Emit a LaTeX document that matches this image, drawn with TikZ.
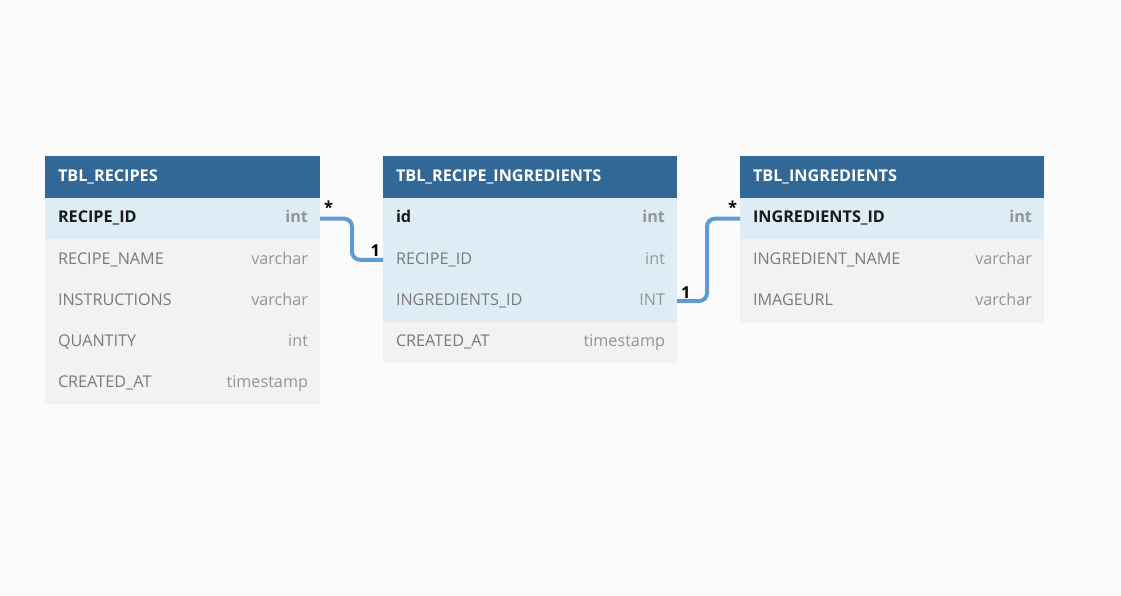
\documentclass[tikz,border=0pt]{standalone}
\usepackage{fontspec}
\setmainfont{Open Sans}
\usetikzlibrary{positioning}
\definecolor{hdrblue}{HTML}{326896}
\definecolor{keyrow}{HTML}{DEEDF5}
\definecolor{plainrow}{HTML}{F2F2F2}
\definecolor{fieldgray}{HTML}{7A7A7A}
\definecolor{typegray}{HTML}{959595}
\definecolor{linkblue}{HTML}{5F9BD0}
\definecolor{canvas}{HTML}{FBFBFB}

\tikzset{every node/.style={inner sep=0pt, outer sep=0pt}}
\tikzset{
  hdr/.style={fill=hdrblue, anchor=north west, minimum height=42pt},
  hdrtext/.style={text=white, font=\fontsize{16.2}{19}\selectfont\bfseries, text height=11.5pt, text depth=3pt},
  keyrow/.style={fill=keyrow, anchor=north west, minimum height=41.2pt},
  plainrow/.style={fill=plainrow, anchor=north west, minimum height=41.2pt},
  fname/.style={text=fieldgray, font=\fontsize{16.2}{19}\selectfont, text height=11.5pt, text depth=3pt},
  fkey/.style={text=black!90, font=\fontsize{16.2}{19}\selectfont\bfseries, text height=11.5pt, text depth=3pt},
  ftype/.style={text=typegray, font=\fontsize{16.2}{19}\selectfont, text height=11.5pt, text depth=3pt},
  fkeytype/.style={text=typegray, font=\fontsize{16.2}{19}\selectfont\bfseries, text height=11.5pt, text depth=3pt},
  link/.style={draw=linkblue, line width=4pt, rounded corners=8pt},
  mult/.style={text=black, font=\fontsize{16.5}{19}\selectfont\bfseries}
}

\begin{document}
\begin{tikzpicture}[x=1pt, y=-1pt]
\useasboundingbox[fill=canvas] (0,0) rectangle (1121,595);

% TBL_RECIPES
\node[hdr, minimum width=275pt] (rcp) at (45,156) {};
\node[hdrtext, right=13pt of rcp.west] (rcpt) {TBL\_RECIPES};
\node[keyrow, minimum width=275pt] (rcp1) at (45,198) {};
\node[plainrow, minimum width=275pt] (rcp2) at (45,239.2) {};
\node[plainrow, minimum width=275pt] (rcp3) at (45,280.4) {};
\node[plainrow, minimum width=275pt] (rcp4) at (45,321.6) {};
\node[plainrow, minimum width=275pt] (rcp5) at (45,362.8) {};
\node[fkey, right=13pt of rcp1.west] (rcp1n) {RECIPE\_ID};
\node[fkeytype, left=12pt of rcp1.east] (rcp1t) {int};
\node[fname, right=13pt of rcp2.west] (rcp2n) {RECIPE\_NAME};
\node[ftype, left=12pt of rcp2.east] (rcp2t) {varchar};
\node[fname, right=13pt of rcp3.west] (rcp3n) {INSTRUCTIONS};
\node[ftype, left=12pt of rcp3.east] (rcp3t) {varchar};
\node[fname, right=13pt of rcp4.west] (rcp4n) {QUANTITY};
\node[ftype, left=12pt of rcp4.east] (rcp4t) {int};
\node[fname, right=13pt of rcp5.west] (rcp5n) {CREATED\_AT};
\node[ftype, left=12pt of rcp5.east] (rcp5t) {timestamp};

% TBL_RECIPE_INGREDIENTS
\node[hdr, minimum width=294pt] (ri) at (383,156) {};
\node[hdrtext, right=13pt of ri.west] (rit) {TBL\_RECIPE\_INGREDIENTS};
\node[keyrow, minimum width=294pt] (ri1) at (383,198) {};
\node[keyrow, minimum width=294pt] (ri2) at (383,239.2) {};
\node[keyrow, minimum width=294pt] (ri3) at (383,280.4) {};
\node[plainrow, minimum width=294pt] (ri4) at (383,321.6) {};
\node[fkey, right=13pt of ri1.west] (ri1n) {id};
\node[fkeytype, left=12pt of ri1.east] (ri1t) {int};
\node[fname, right=13pt of ri2.west] (ri2n) {RECIPE\_ID};
\node[ftype, left=12pt of ri2.east] (ri2t) {int};
\node[fname, right=13pt of ri3.west] (ri3n) {INGREDIENTS\_ID};
\node[ftype, left=12pt of ri3.east] (ri3t) {INT};
\node[fname, right=13pt of ri4.west] (ri4n) {CREATED\_AT};
\node[ftype, left=12pt of ri4.east] (ri4t) {timestamp};

% TBL_INGREDIENTS
\node[hdr, minimum width=304pt] (ing) at (740,156) {};
\node[hdrtext, right=13pt of ing.west] (ingt) {TBL\_INGREDIENTS};
\node[keyrow, minimum width=304pt] (ing1) at (740,198) {};
\node[plainrow, minimum width=304pt] (ing2) at (740,239.2) {};
\node[plainrow, minimum width=304pt] (ing3) at (740,280.4) {};
\node[fkey, right=13pt of ing1.west] (ing1n) {INGREDIENTS\_ID};
\node[fkeytype, left=12pt of ing1.east] (ing1t) {int};
\node[fname, right=13pt of ing2.west] (ing2n) {INGREDIENT\_NAME};
\node[ftype, left=12pt of ing2.east] (ing2t) {varchar};
\node[fname, right=13pt of ing3.west] (ing3n) {IMAGEURL};
\node[ftype, left=12pt of ing3.east] (ing3t) {varchar};

% links
\draw[link] (rcp1.east) -- ++(32,0) |- (ri2.west);
\draw[link] (ri3.east) -- ++(30,0) |- (ing1.west);
\node[mult, anchor=south west] (m1) at ([xshift=4pt, yshift=5pt]rcp1.east) {*};
\node[mult, anchor=south east] (m2) at ([xshift=-3pt, yshift=3pt]ri2.west) {1};
\node[mult, anchor=south west] (m3) at ([xshift=4pt, yshift=3pt]ri3.east) {1};
\node[mult, anchor=south east] (m4) at ([xshift=-3pt, yshift=5pt]ing1.west) {*};
\end{tikzpicture}
\end{document}
